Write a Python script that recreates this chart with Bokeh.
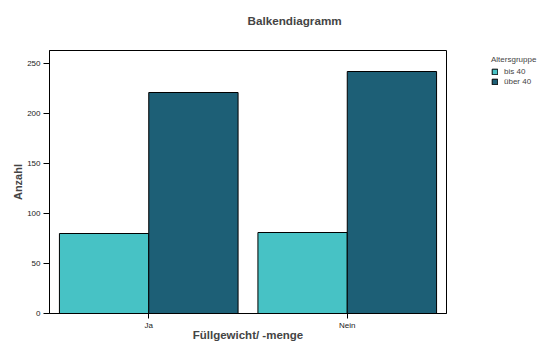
from bokeh.plotting import figure
from bokeh.layouts import row
from bokeh.models import ColumnDataSource, FactorRange, Range1d, Legend, LegendItem, Title
from bokeh.transform import dodge
from bokeh.embed import file_html
from bokeh.resources import INLINE

categories = ["Ja", "Nein"]
groups = ["bis 40", "über 40"]
bis_40 = [80, 81]
ueber_40 = [221, 242]
y_ticks = [0, 50, 100, 150, 200, 250]
colors = ["#47C2C5", "#1D5F76"]

src = ColumnDataSource(dict(cat=categories, bis_40=bis_40, ueber_40=ueber_40))

FONT = "Liberation Sans"

p = figure(width=447, height=343, x_range=FactorRange(factors=categories, range_padding=0),
           y_range=Range1d(0, 263), output_backend="svg", toolbar_location=None,
           min_border_left=49, min_border_right=1,
           min_border_top=50, min_border_bottom=30)

r1 = p.vbar(x=dodge("cat", -0.225, range=p.x_range), top="bis_40", width=0.45, source=src,
            fill_color=colors[0], line_color="black", line_width=1)
r2 = p.vbar(x=dodge("cat", 0.225, range=p.x_range), top="ueber_40", width=0.45, source=src,
            fill_color=colors[1], line_color="black", line_width=1)

p.xgrid.visible = False
p.ygrid.visible = False
p.outline_line_color = "black"
p.outline_line_width = 1

# spacer between frame and title, then the title itself
p.add_layout(Title(text=" ", text_font_size="1px", standoff=21), "above")
p.add_layout(Title(text="Balkendiagramm", text_font=FONT, text_font_size="11.7px",
                   text_font_style="bold", align="left", offset=198, standoff=0,
                   vertical_align="bottom"), "above")

p.yaxis.ticker = y_ticks
p.yaxis.axis_label = "Anzahl"
p.xaxis.axis_label = "Füllgewicht/ -menge"
for ax in (p.xaxis[0], p.yaxis[0]):
    ax.axis_label_text_font = FONT
    ax.axis_label_text_font_size = "11.5px"
    ax.axis_label_text_font_style = "bold"
    ax.major_label_text_font = FONT
    ax.major_label_text_font_size = "8px"
    ax.major_label_text_color = "#222222"
    ax.axis_line_color = "black"
    ax.major_tick_line_color = "black"
    ax.major_tick_in = 0
    ax.minor_tick_line_color = None
p.yaxis.axis_label_text_font_size = "11px"
p.yaxis.major_tick_out = 6
p.yaxis.major_label_standoff = 3
p.yaxis.axis_label_standoff = 0
p.xaxis.major_tick_out = 5
p.xaxis.major_label_standoff = 2
p.xaxis.axis_label_standoff = -4

# legend panel (its swatch renderers lie outside its visible ranges)
lp = figure(width=92, height=343, output_backend="svg", toolbar_location=None,
            x_range=FactorRange(factors=categories), y_range=Range1d(500, 600),
            x_axis_location=None, y_axis_location=None,
            min_border_left=39, min_border_right=0, min_border_top=50, min_border_bottom=30)
lp.outline_line_color = None
lp.xgrid.visible = False
lp.ygrid.visible = False
l1 = lp.vbar(x=dodge("cat", 10, range=lp.x_range), top="bis_40", width=0.5, source=src,
             fill_color=colors[0], line_color="black", line_width=1)
l2 = lp.vbar(x=dodge("cat", 10, range=lp.x_range), top="ueber_40", width=0.5, source=src,
             fill_color=colors[1], line_color="black", line_width=1)

legend = Legend(items=[LegendItem(label=groups[0], renderers=[l1]),
                       LegendItem(label=groups[1], renderers=[l2])],
                title="Altersgruppe", location="top_left")
legend.title_text_font = FONT
legend.title_text_font_size = "8px"
legend.title_text_font_style = "normal"
legend.label_text_font = FONT
legend.label_text_font_size = "8px"
legend.glyph_width = 7
legend.glyph_height = 7
legend.label_height = 7
legend.spacing = 1
legend.padding = 2
legend.margin = 5
legend.label_standoff = 6
legend.title_standoff = 3
legend.border_line_color = None
legend.background_fill_alpha = 0
lp.add_layout(legend, "center")

open("out.html", "w").write(file_html(row(p, lp), INLINE))
